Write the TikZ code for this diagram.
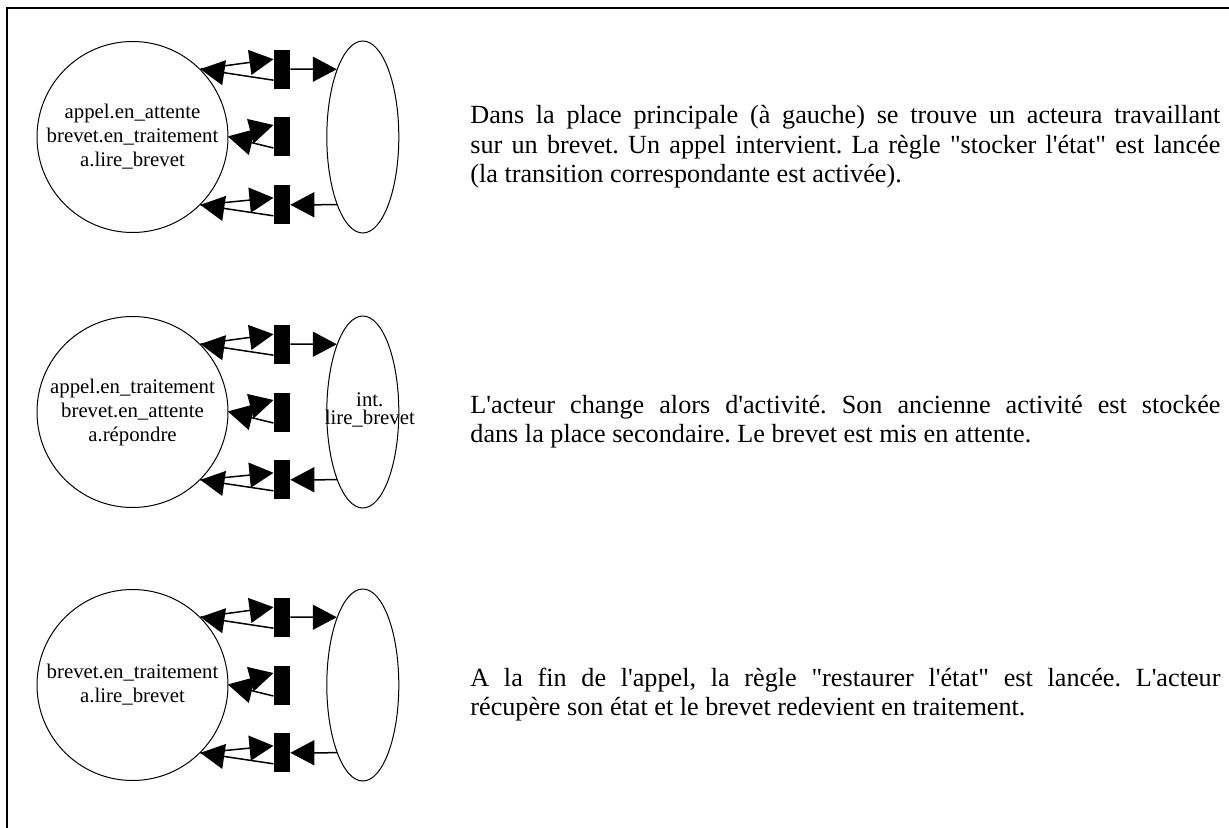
\documentclass[tikz,border=0pt]{standalone}
\usepackage{fontspec}
\setmainfont{Liberation Serif}[Ligatures=TeXOff]
\usepackage{tikz}
\usetikzlibrary{shapes.geometric, arrows.meta, positioning}
\newcommand\tightlines{\lineskiplimit=-5pt\relax\lineskip=0pt\relax}
\frenchspacing
\tikzset{
  place/.style={circle, draw, line width=0.5pt, minimum size=95.5pt, inner sep=0pt, align=center, font=\fontsize{10.4}{12}\selectfont},
  side/.style={ellipse, draw, line width=0.5pt, minimum width=36pt, minimum height=96pt, inner sep=0pt},
  sidelab/.style={align=center, inner sep=0pt, font=\fontsize{10.4}{9.2}\selectfont\tightlines},
  trans/.style={rectangle, fill=black, minimum width=8pt, minimum height=19.5pt, inner sep=0pt},
  arr/.style={-{Triangle[length=12pt, width=12.5pt]}, line width=0.75pt},
  note/.style={anchor=base west, text width=375pt, align=justify, inner sep=0pt, font=\fontsize{13.1}{14.6}\selectfont},
  frame/.style={line width=1pt},
}
\begin{document}
\begin{tikzpicture}[x=1pt, y=1pt]
  \useasboundingbox (0,0) rectangle (614.5,-414);
  \draw[frame] (614.5,-4) -- (3.5,-4) -- (3.5,-414);

  \node[place] (pl1) at (66.25,-68.5) {appel.en\_attente\\brevet.en\_traitement\\a.lire\_brevet};
  \node[trans, right=22.5pt of pl1] (t12) {};
  \node[trans, above=14pt of t12] (t11) {};
  \node[trans, below=14pt of t12] (t13) {};
  \node[side, right=18pt of t12] (ps1) {};
  \draw[arr] (pl1.45) -- ([yshift=5pt]t11.west);
  \draw[arr] ([yshift=-5.5pt]t11.west) -- (pl1.45);
  \draw[arr] (t11.east) -- (ps1.111);
  \draw[arr] (pl1.east) -- ([yshift=6pt]t12.west);
  \draw[arr] ([yshift=-5.5pt]t12.west) -- (pl1.east);
  \draw[arr] (pl1.-45) -- ([yshift=3.5pt]t13.west);
  \draw[arr] ([yshift=-5.5pt]t13.west) -- (pl1.-45);
  \draw[arr] (ps1.-111) -- (t13.east);
  \node[note] (n1) at (235,-62) {Dans la place principale (à gauche) se trouve un acteura travaillant\linebreak sur un brevet. Un appel intervient. La règle "stocker l'état" est lancée\linebreak (la transition correspondante est activée).};

  \node[place] (pl2) at (66.25,-206) {appel.en\_traitement\\brevet.en\_attente\\a.répondre};
  \node[trans, right=22.5pt of pl2] (t22) {};
  \node[trans, above=14pt of t22] (t21) {};
  \node[trans, below=14pt of t22] (t23) {};
  \node[side, right=18pt of t22] (ps2) {};
  \node[sidelab] (lb2) at ([xshift=3.5pt, yshift=1pt]ps2.center) {int.\\lire\_brevet};
  \draw[arr] (pl2.45) -- ([yshift=5pt]t21.west);
  \draw[arr] ([yshift=-5.5pt]t21.west) -- (pl2.45);
  \draw[arr] (t21.east) -- (ps2.111);
  \draw[arr] (pl2.east) -- ([yshift=6pt]t22.west);
  \draw[arr] ([yshift=-5.5pt]t22.west) -- (pl2.east);
  \draw[arr] (pl2.-45) -- ([yshift=3.5pt]t23.west);
  \draw[arr] ([yshift=-5.5pt]t23.west) -- (pl2.-45);
  \draw[arr] (ps2.-111) -- (t23.east);
  \node[note] (n2) at (235,-206.5) {L'acteur change alors d'activité. Son ancienne activité est stockée\linebreak dans la place secondaire. Le brevet est mis en attente.};

  \node[place] (pl3) at (66.25,-342.5) {brevet.en\_traitement\\a.lire\_brevet};
  \node[trans, right=22.5pt of pl3] (t32) {};
  \node[trans, above=14pt of t32] (t31) {};
  \node[trans, below=14pt of t32] (t33) {};
  \node[side, right=18pt of t32] (ps3) {};
  \draw[arr] (pl3.45) -- ([yshift=5pt]t31.west);
  \draw[arr] ([yshift=-5.5pt]t31.west) -- (pl3.45);
  \draw[arr] (t31.east) -- (ps3.111);
  \draw[arr] (pl3.east) -- ([yshift=6pt]t32.west);
  \draw[arr] ([yshift=-5.5pt]t32.west) -- (pl3.east);
  \draw[arr] (pl3.-45) -- ([yshift=3.5pt]t33.west);
  \draw[arr] ([yshift=-5.5pt]t33.west) -- (pl3.-45);
  \draw[arr] (ps3.-111) -- (t33.east);
  \node[note] (n3) at (235,-343) {A la fin de l'appel, la règle "restaurer l'état" est lancée. L'acteur\linebreak récupère son état et le brevet redevient en traitement.};
\end{tikzpicture}
\end{document}
